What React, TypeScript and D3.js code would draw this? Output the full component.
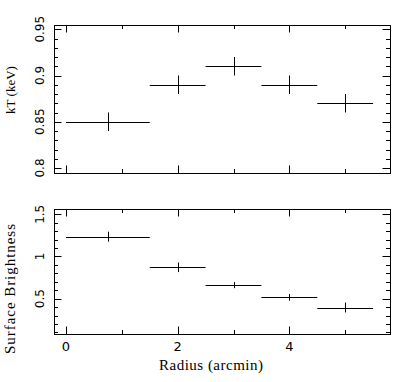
import React, { useEffect, useRef } from 'react';
import * as d3 from 'd3';

// radial bins (arcmin)
const binLo = [0, 1.5, 2.5, 3.5, 4.5];
const binHi = [1.5, 2.5, 3.5, 4.5, 5.5];
const radius = [0.75, 2, 3, 4, 5];

// temperature profile
const kT = [0.85, 0.89, 0.91, 0.89, 0.87];
const kTErr = [0.01, 0.01, 0.01, 0.01, 0.01];

// surface brightness profile
const sb = [1.235, 0.872, 0.66, 0.515, 0.395];
const sbErr = [0.059, 0.057, 0.036, 0.039, 0.059];

const xTicks = [0, 1, 2, 3, 4, 5];
const xLabels = [0, 2, 4];
const kTLabels = [0.8, 0.85, 0.9, 0.95];
const sbLabels = [0.5, 1, 1.5];

const W = 393;
const H = 382;

const tickFont = '"DejaVu Sans", sans-serif';
const titleFont = '"Liberation Serif", "Times New Roman", serif';

export default function App() {
  const ref = useRef<SVGSVGElement>(null);

  useEffect(() => {
    const svg = d3.select(ref.current);
    svg.selectAll('*').remove();

    const x = d3.scaleLinear().domain([-0.215, 5.803]).range([54, 390]);

    const drawPanel = (
      yDom: [number, number],
      yRange: [number, number],
      vals: number[],
      errs: number[],
      majors: number[],
      minorStep: number,
      showX: boolean
    ) => {
      const y = d3.scaleLinear().domain(yDom).range(yRange);
      const g = svg.append('g');
      const top = yRange[1];
      const bot = yRange[0];

      g.append('rect')
        .attr('x', x.range()[0] + 0.5)
        .attr('y', top + 0.5)
        .attr('width', x.range()[1] - x.range()[0])
        .attr('height', bot - top)
        .attr('fill', 'none')
        .attr('stroke', 'black')
        .attr('stroke-width', 1);

      // x ticks top and bottom
      xTicks.forEach(t => {
        const len = t % 2 === 0 ? 7.5 : 4;
        const px = Math.round(x(t)) + 0.5;
        g.append('line').attr('x1', px).attr('x2', px).attr('y1', bot).attr('y2', bot - len).attr('stroke', 'black');
        g.append('line').attr('x1', px).attr('x2', px).attr('y1', top).attr('y2', top + len).attr('stroke', 'black');
      });

      // y ticks left and right
      const minors = d3.range(Math.ceil(yDom[0] / minorStep - 1e-6), Math.floor(yDom[1] / minorStep + 1e-6) + 1)
        .map(i => +(i * minorStep).toFixed(4));
      minors.forEach(v => {
        const isMajor = majors.some(m => Math.abs(m - v) < 1e-6);
        const len = isMajor ? 7.5 : 4;
        const py = Math.round(y(v)) + 0.5;
        const xl = x.range()[0];
        const xr = x.range()[1];
        g.append('line').attr('x1', xl).attr('x2', xl + len).attr('y1', py).attr('y2', py).attr('stroke', 'black');
        g.append('line').attr('x1', xr).attr('x2', xr - len).attr('y1', py).attr('y2', py).attr('stroke', 'black');
      });

      majors.forEach(v => {
        const py = y(v);
        g.append('text')
          .attr('x', 44)
          .attr('y', py)
          .attr('transform', `rotate(-90, 44, ${py})`)
          .attr('text-anchor', 'middle')
          .style('font-family', tickFont)
          .style('font-size', '12px')
          .text(String(v));
      });

      if (showX) {
        xLabels.forEach(t => {
          g.append('text')
            .attr('x', x(t))
            .attr('y', 351)
            .attr('text-anchor', 'middle')
            .style('font-family', tickFont)
            .style('font-size', '13px')
            .text(String(t));
        });
      }

      // data: horizontal bin bars + vertical error bars
      vals.forEach((v, i) => {
        const py = Math.round(y(v)) + 0.5;
        g.append('line')
          .attr('x1', x(binLo[i])).attr('x2', x(binHi[i]))
          .attr('y1', py).attr('y2', py)
          .attr('stroke', 'black');
        const px = Math.round(x(radius[i])) + 0.5;
        g.append('line')
          .attr('x1', px).attr('x2', px)
          .attr('y1', y(v - errs[i])).attr('y2', y(v + errs[i]))
          .attr('stroke', 'black');
      });
    };

    drawPanel([0.7946, 0.9546], [173, 25], kT, kTErr, kTLabels, 0.01, false);
    drawPanel([0.081, 1.563], [334, 209], sb, sbErr, sbLabels, 0.1, true);

    svg.append('text')
      .attr('x', 15).attr('y', 90)
      .attr('transform', 'rotate(-90, 15, 90)')
      .attr('text-anchor', 'middle')
      .style('font-family', titleFont)
      .style('font-size', '13px')
      .text('kT (keV)');

    svg.append('text')
      .attr('x', 15).attr('y', 289)
      .attr('transform', 'rotate(-90, 15, 289)')
      .attr('text-anchor', 'middle')
      .style('font-family', titleFont)
      .style('font-size', '15px')
      .attr('textLength', 130)
      .text('Surface Brightness');

    svg.append('text')
      .attr('x', 211).attr('y', 370)
      .attr('text-anchor', 'middle')
      .style('font-family', titleFont)
      .style('font-size', '15px')
      .attr('textLength', 104)
      .text('Radius (arcmin)');
  }, []);

  return (
    <svg
      ref={ref}
      width={W}
      height={H}
      style={{ position: 'absolute', left: 0, top: 0, background: 'white' }}
    />
  );
}
